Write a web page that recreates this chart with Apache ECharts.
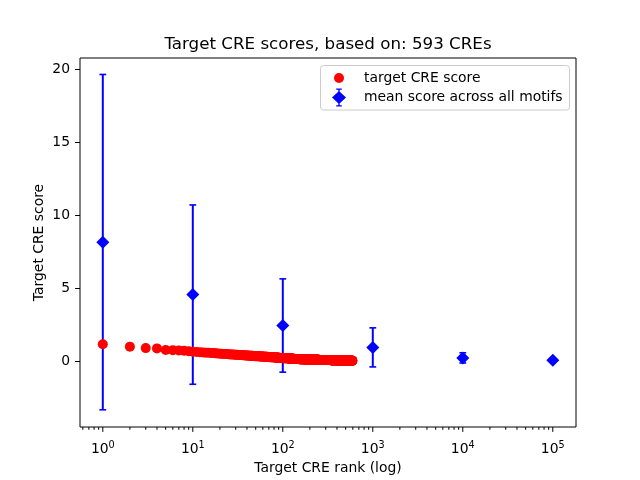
<!DOCTYPE html>
<html>
<head>
<meta charset="utf-8">
<script src="https://cdn.jsdelivr.net/npm/echarts@6.0.0/dist/echarts.min.js"></script>
<style>html,body{margin:0;padding:0;background:#fff}#c{width:640px;height:480px}</style>
</head>
<body>
<div id="c"></div>
<script>
// Target CRE scores, rank 1..593
const targetScores = [
1.15,.98,.88,.86,.75,.74,.72,.70,.66,.63,
.61,.60,.58,.57,.56,.55,.54,.52,.51,.50,
.49,.48,.48,.47,.46,.45,.45,.44,.43,.42,
.42,.41,.41,.40,.40,.39,.39,.38,.38,.37,
.37,.36,.36,.36,.35,.35,.34,.34,.33,.33,
.33,.32,.32,.32,.31,.31,.31,.30,.30,.30,
.29,.29,.29,.28,.28,.28,.28,.27,.27,.27,
.27,.26,.26,.26,.26,.25,.25,.25,.25,.24,
.24,.24,.24,.23,.23,.23,.23,.22,.22,.22,
.22,.22,.21,.21,.21,.21,.21,.20,.20,.20,
.20,.20,.19,.19,.19,.19,.19,.18,.18,.18,
.18,.18,.18,.17,.17,.17,.17,.17,.17,.16,
.16,.16,.16,.16,.16,.16,.15,.15,.15,.15,
.15,.15,.15,.14,.14,.14,.14,.14,.14,.14,
.14,.13,.13,.13,.13,.13,.13,.13,.13,.13,
.13,.12,.12,.12,.12,.12,.12,.12,.12,.12,
.12,.12,.12,.11,.11,.11,.11,.11,.11,.11,
.11,.11,.11,.11,.11,.11,.11,.11,.10,.10,
.10,.10,.10,.10,.10,.10,.10,.10,.10,.10,
.10,.10,.10,.10,.10,.10,.09,.09,.09,.09,
.09,.09,.09,.09,.09,.09,.09,.09,.09,.09,
.09,.09,.09,.09,.09,.09,.09,.09,.09,.09,
.08,.08,.08,.08,.08,.08,.08,.08,.08,.08,
.08,.08,.08,.08,.08,.08,.08,.08,.08,.08,
.08,.08,.08,.08,.08,.08,.08,.08,.08,.08,
.07,.07,.07,.07,.07,.07,.07,.07,.07,.07,
.07,.07,.07,.07,.07,.07,.07,.07,.07,.07,
.07,.07,.07,.07,.07,.07,.07,.07,.07,.07,
.07,.07,.07,.07,.07,.07,.07,.07,.07,.07,
.06,.06,.06,.06,.06,.06,.06,.06,.06,.06,
.06,.06,.06,.06,.06,.06,.06,.06,.06,.06,
.06,.06,.06,.06,.06,.06,.06,.06,.06,.06,
.06,.06,.06,.06,.06,.06,.06,.06,.06,.06,
.06,.06,.06,.06,.06,.06,.06,.06,.06,.06,
.05,.05,.05,.05,.05,.05,.05,.05,.05,.05,
.05,.05,.05,.05,.05,.05,.05,.05,.05,.05,
.05,.05,.05,.05,.05,.05,.05,.05,.05,.05,
.05,.05,.05,.05,.05,.05,.05,.05,.05,.05,
.05,.05,.05,.05,.05,.05,.05,.05,.05,.05,
.05,.05,.05,.05,.05,.05,.05,.05,.05,.05,
.05,.05,.05,.05,.05,.05,.05,.05,.05,.05,
.04,.04,.04,.04,.04,.04,.04,.04,.04,.04,
.04,.04,.04,.04,.04,.04,.04,.04,.04,.04,
.04,.04,.04,.04,.04,.04,.04,.04,.04,.04,
.04,.04,.04,.04,.04,.04,.04,.04,.04,.04,
.04,.04,.04,.04,.04,.04,.04,.04,.04,.04,
.04,.04,.04,.04,.04,.04,.04,.04,.04,.04,
.04,.04,.04,.04,.04,.04,.04,.04,.04,.04,
.04,.04,.04,.04,.04,.04,.04,.04,.04,.04,
.03,.03,.03,.03,.03,.03,.03,.03,.03,.03,
.03,.03,.03,.03,.03,.03,.03,.03,.03,.03,
.03,.03,.03,.03,.03,.03,.03,.03,.03,.03,
.03,.03,.03,.03,.03,.03,.03,.03,.03,.03,
.03,.03,.03,.03,.03,.03,.03,.03,.03,.03,
.03,.03,.03,.03,.03,.03,.03,.03,.03,.03,
.03,.03,.03,.03,.03,.03,.03,.03,.03,.03,
.02,.02,.02,.02,.02,.02,.02,.02,.02,.02,
.02,.02,.02,.02,.02,.02,.02,.02,.02,.02,
.02,.02,.02,.02,.02,.02,.02,.02,.02,.02,
.01,.01,.01
];
// mean score across all motifs at rank buckets, with symmetric error
const meanRanks = [1, 10, 100, 1000, 10000, 100000];
const meanScores = [8.15, 4.55, 2.43, 0.93, 0.21, 0.05];
const meanErrors = [11.5, 6.15, 3.2, 1.34, 0.35, 0.02];

// axis ticks
const yTicks = [0, 5, 10, 15, 20];
const xMajorTicks = [1, 10, 100, 1000, 10000, 100000];
const xMinorTicks = [0.6,0.7,0.8,0.9,
  2,3,4,5,6,7,8,9, 20,30,40,50,60,70,80,90,
  200,300,400,500,600,700,800,900, 2000,3000,4000,5000,6000,7000,8000,9000,
  20000,30000,40000,50000,60000,70000,80000,90000];

const titleText = 'Target CRE scores, based on: 593 CREs';
const xName = 'Target CRE rank (log)';
const yName = 'Target CRE score';
const nameTarget = 'target CRE score';
const nameMean = 'mean score across all motifs';

const FONT = 'DejaVu Sans';
const chart = echarts.init(document.getElementById('c'), null, {renderer: 'canvas'});

const redData = targetScores.map((v, i) => [i + 1, v]);
const meanData = meanRanks.map((r, i) => [r, meanScores[i]]);
const errData = meanRanks.map((r, i) => [r, meanScores[i], meanErrors[i]]);

function tickSeries(values, len) {
  return {
    type: 'custom', silent: true, clip: false, z: 5,
    data: values.map(v => [v, 0]),
    renderItem(params, api) {
      const x = api.coord([api.value(0), 0])[0];
      const y0 = params.coordSys.y + params.coordSys.height;
      return {type: 'line', shape: {x1: x, y1: y0, x2: x, y2: y0 + len},
        style: {stroke: '#000', lineWidth: 1}};
    }
  };
}

const diamondBar = 'path://M6.3 0 L7.7 0 L7.7 18 L6.3 18 Z M4.2 0 L9.8 0 L9.8 1.2 L4.2 1.2 Z M4.2 16.8 L9.8 16.8 L9.8 18 L4.2 18 Z M7 2.5 L14 9 L7 15.5 L0 9 Z';

chart.setOption({
  animation: false,
  backgroundColor: '#fff',
  title: {
    text: titleText, left: 328, top: 36, padding: 0, textAlign: 'center',
    textStyle: {fontFamily: FONT, fontSize: 16.7, fontWeight: 'normal', color: '#000'}
  },
  grid: {left: 80, right: 64, top: 58, bottom: 53, show: true, borderColor: '#000', borderWidth: 1, backgroundColor: 'transparent'},
  legend: [
    {
      data: [nameTarget], left: 334, top: 71, padding: 0, orient: 'vertical',
      itemWidth: 20, itemHeight: 10, icon: 'circle', selectedMode: false,
      textStyle: {fontFamily: FONT, fontSize: 13.9, color: '#000', padding: [0, 0, 0, 10]}
    },
    {
      data: [{name: nameMean, icon: diamondBar}], left: 332, top: 88.5, padding: 0, orient: 'vertical',
      itemWidth: 20, itemHeight: 18, selectedMode: false,
      textStyle: {fontFamily: FONT, fontSize: 13.9, color: '#000', padding: [0, 0, 0, 10]}
    }
  ],
  graphic: [{
    type: 'rect', z: 3,
    shape: {x: 320.5, y: 65.5, width: 249, height: 44.5, r: 3},
    style: {fill: 'rgba(255,255,255,0.8)', stroke: '#cccccc', lineWidth: 1}
  }],
  xAxis: {
    type: 'log', logBase: 10, min: 0.558, max: 181100,
    name: xName, nameLocation: 'middle', nameGap: 34,
    nameTextStyle: {fontFamily: FONT, fontSize: 13.9, color: '#000'},
    axisLine: {show: false}, axisTick: {show: false}, splitLine: {show: false}, minorTick: {show: false},
    axisLabel: {
      margin: 13, color: '#000',
      formatter: v => {
        const e = Math.log10(v); const r = Math.round(e);
        if (Math.abs(e - r) > 1e-6) return '';
        return '{b|10}{e|' + r + '}';
      },
      rich: {
        b: {fontFamily: FONT, fontSize: 13.9, color: '#000'},
        e: {fontFamily: FONT, fontSize: 9.7, color: '#000', padding: [0, 0, 8, 0]}
      }
    }
  },
  yAxis: {
    type: 'value', min: -4.531, max: 20.78,
    name: yName, nameLocation: 'middle', nameGap: 34, nameRotate: 90, nameMoveOverlap: false,
    nameTextStyle: {fontFamily: FONT, fontSize: 13.9, color: '#000'},
    axisLine: {show: false}, splitLine: {show: false},
    axisTick: {show: true, length: 4.9, lineStyle: {color: '#000', width: 1}, customValues: yTicks},
    axisLabel: {margin: 10, fontFamily: FONT, fontSize: 13.9, color: '#000', customValues: yTicks}
  },
  series: [
    {
      name: nameMean + ' err', type: 'custom', z: 2, silent: true,
      data: errData,
      renderItem(params, api) {
        const x = api.value(0), m = api.value(1), e = api.value(2);
        const t = api.coord([x, m + e]);
        const b = api.coord([x, m - e]);
        const hw = 3.4;
        return {type: 'group', children: [
          {type: 'line', shape: {x1: t[0], y1: t[1], x2: b[0], y2: b[1]}, style: {stroke: '#0000ff', lineWidth: 2}},
          {type: 'line', shape: {x1: t[0] - hw, y1: t[1], x2: t[0] + hw, y2: t[1]}, style: {stroke: '#0000ff', lineWidth: 1.6}},
          {type: 'line', shape: {x1: b[0] - hw, y1: b[1], x2: b[0] + hw, y2: b[1]}, style: {stroke: '#0000ff', lineWidth: 1.6}}
        ]};
      }
    },
    {
      name: nameMean, type: 'scatter', z: 2, symbol: 'diamond', symbolSize: 13,
      itemStyle: {color: '#0000ff', opacity: 1}, data: meanData
    },
    {
      name: nameTarget, type: 'scatter', z: 3, symbol: 'circle', symbolSize: 10,
      itemStyle: {color: '#ff0000', opacity: 1}, data: redData, large: false
    },
    tickSeries(xMajorTicks, 4.9),
    tickSeries(xMinorTicks, 2.8)
  ]
});
</script>
</body>
</html>
